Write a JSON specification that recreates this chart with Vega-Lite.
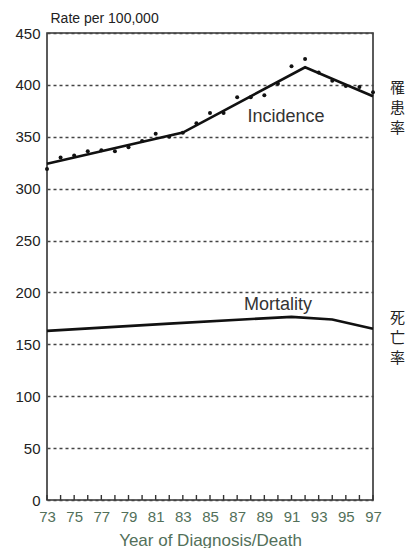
{
  "$schema": "https://vega.github.io/schema/vega-lite/v6.json",
  "autosize": {"type": "none"},
  "padding": {"left": 47, "top": 33, "right": 33, "bottom": 48},
  "width": 326,
  "height": 467,
  "background": "white",
  "config": {
    "font": "Liberation Sans",
    "view": {"stroke": "#333333", "strokeWidth": 1.6}
  },
  "datasets": {
    "incidenceTrend": [
      {"year": 73, "rate": 324},
      {"year": 83, "rate": 354},
      {"year": 92, "rate": 417},
      {"year": 97, "rate": 389}
    ],
    "mortalityTrend": [
      {"year": 73, "rate": 163},
      {"year": 82, "rate": 170},
      {"year": 91, "rate": 176.5},
      {"year": 94, "rate": 174},
      {"year": 97, "rate": 165}
    ],
    "incidenceObserved": [
      {"year": 73, "rate": 319},
      {"year": 74, "rate": 330},
      {"year": 75, "rate": 332},
      {"year": 76, "rate": 336},
      {"year": 77, "rate": 337},
      {"year": 78, "rate": 336},
      {"year": 79, "rate": 340},
      {"year": 80, "rate": 346},
      {"year": 81, "rate": 353},
      {"year": 82, "rate": 350},
      {"year": 83, "rate": 354},
      {"year": 84, "rate": 363},
      {"year": 85, "rate": 373},
      {"year": 86, "rate": 373},
      {"year": 87, "rate": 388},
      {"year": 88, "rate": 388},
      {"year": 89, "rate": 390},
      {"year": 90, "rate": 401},
      {"year": 91, "rate": 418},
      {"year": 92, "rate": 425},
      {"year": 93, "rate": 412},
      {"year": 94, "rate": 404},
      {"year": 95, "rate": 399},
      {"year": 96, "rate": 398},
      {"year": 97, "rate": 393}
    ],
    "seriesLabels": [
      {"year": 90.6, "rate": 369, "label": "Incidence"},
      {"year": 90.0, "rate": 188, "label": "Mortality"}
    ],
    "sideLabels": [
      {"year": 98.8, "rate": 397, "label": "罹\n患\n率"},
      {"year": 98.8, "rate": 175, "label": "死\n亡\n率"}
    ]
  },
  "encoding": {
    "x": {
      "field": "year",
      "type": "quantitative",
      "scale": {"domain": [73, 97], "nice": false, "zero": false},
      "axis": {
        "values": [73, 75, 77, 79, 81, 83, 85, 87, 89, 91, 93, 95, 97],
        "labelOverlap": false,
        "labelFlush": false,
        "labelFontSize": 15,
        "labelColor": "#52705a",
        "labelPadding": 9,
        "ticks": false,
        "domain": false,
        "grid": false,
        "title": "Year of Diagnosis/Death",
        "titleFontSize": 17,
        "titleFontWeight": "normal",
        "titleColor": "#52705a",
        "titleBaseline": "alphabetic",
        "titleY": 45
      }
    },
    "y": {
      "field": "rate",
      "type": "quantitative",
      "scale": {"domain": [0, 450], "nice": false},
      "axis": {
        "values": [0, 50, 100, 150, 200, 250, 300, 350, 400, 450],
        "labelFontSize": 15,
        "labelColor": "#222222",
        "labelPadding": 7,
        "ticks": false,
        "domain": false,
        "grid": true,
        "gridColor": "#444444",
        "gridDash": [3, 3],
        "gridWidth": 1.3,
        "title": "Rate per 100,000",
        "titleAngle": 0,
        "titleAlign": "left",
        "titleBaseline": "alphabetic",
        "titleFontSize": 14,
        "titleFontWeight": "normal",
        "titleColor": "#222222",
        "titleX": 3,
        "titleY": -11
      }
    }
  },
  "layer": [
    {
      "data": {"name": "incidenceObserved"},
      "mark": {"type": "tick", "orient": "vertical", "size": 5, "thickness": 1.4, "color": "#333333", "yOffset": -2.5, "opacity": 1},
      "encoding": {
        "y": {"datum": 0}
      }
    },
    {
      "data": {"name": "incidenceTrend"},
      "mark": {"type": "line", "color": "#111111", "strokeWidth": 2.6}
    },
    {
      "data": {"name": "mortalityTrend"},
      "mark": {"type": "line", "color": "#111111", "strokeWidth": 2.6}
    },
    {
      "data": {"name": "incidenceObserved"},
      "mark": {"type": "circle", "color": "#111111", "size": 16, "opacity": 1}
    },
    {
      "data": {"name": "seriesLabels"},
      "mark": {"type": "text", "fontSize": 18, "color": "#333333", "align": "center", "baseline": "middle"},
      "encoding": {
        "text": {"field": "label"}
      }
    },
    {
      "data": {"name": "sideLabels"},
      "mark": {"type": "text", "font": "Noto Sans CJK JP", "fontSize": 15, "color": "#222222", "align": "center", "baseline": "middle", "lineBreak": "\n", "lineHeight": 20},
      "encoding": {
        "text": {"field": "label"}
      }
    }
  ]
}
